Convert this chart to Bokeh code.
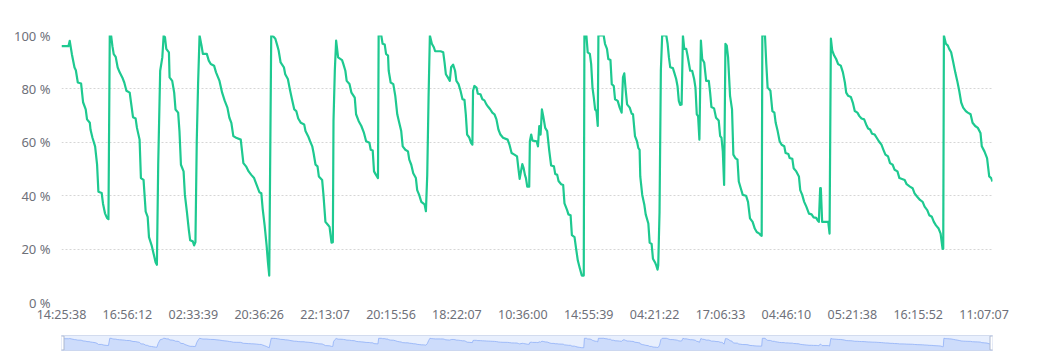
from bokeh.plotting import figure
from bokeh.models import Range1d, FixedTicker
from bokeh.layouts import column
from bokeh.embed import file_html
from bokeh.resources import INLINE

# sample position (category index) of each reading
sample_index = (
    [0, 4.2, 5.0, 6.3, 7.9, 8.7, 9.9, 11.9, 13.1, 14.7, 15.5, 17.2, 17.6, 18.8, 20.4, 21.6, 22.4, 24.4, 25.2, 26.4, 27.6, 28.5]
    + [29.3, 30.1, 30.9, 31.7, 32.9, 34.1, 35.3, 36.9, 38.1, 39.4, 41.4, 42.2, 43.4, 45.0, 45.8, 47.4, 48.2, 49.8, 51.1, 52.3, 53.1, 54.7, 55.9, 57.1, 57.9]
    + [58.7, 59.9, 61.2, 62.0, 62.8, 63.6, 65.2, 65.6, 67.2, 68.4, 69.2, 70.8, 71.6, 72.5, 74.1, 74.9, 76.1, 77.3, 78.1, 79.7, 80.5, 81.3]
    + [82.1, 82.9, 83.8, 85.0, 85.8, 88.2, 89.4, 90.6, 92.6, 93.8, 95.9, 97.5, 99.1, 100.7, 101.9, 103.1, 104.3, 106.0, 108.8, 110.4, 112.0, 113.6, 115.2, 116.9, 118.5, 120.1, 121.3, 122.1, 123.3, 124.5, 125.3, 126.1]
    + [127.3, 128.6, 129.8, 131.0, 131.8, 133.0, 135.0, 135.8, 137.4, 138.6, 139.9, 141.3, 142.5, 143.7, 145.3, 147.3, 148.1, 149.7, 150.9, 152.2, 153.0, 154.2, 155.4, 156.2, 158.2, 159.0, 160.2, 161.8, 162.7, 163.9, 164.7]
    + [165.1, 165.9, 166.7, 167.9, 170.3, 171.1, 172.3, 173.1, 174.8, 176.0, 178.0, 178.8, 180.4, 182.0, 183.6, 184.9, 186.9, 187.7, 188.9, 189.7, 190.9, 192.1]
    + [192.5, 194.1, 194.9, 196.2, 197.0, 198.2, 198.6, 199.8, 201.4, 202.6, 203.8, 205.0, 206.2, 207.1, 208.7, 210.3, 211.1, 212.3, 213.5, 215.1, 215.9, 217.1, 218.4, 219.6, 220.4, 221.2]
    + [222.0, 222.8, 223.6, 224.8, 226.0, 226.8, 230.1, 231.7, 232.5, 233.3, 234.5, 235.7, 236.5, 237.7, 238.9, 239.7, 241.0, 242.2, 243.4, 244.6, 245.4, 246.2, 247.4, 248.6, 249.4]
    + [249.8, 250.6, 251.9, 252.7, 254.3, 255.5, 256.7, 257.9, 259.1, 260.3, 261.5, 262.8, 264.0, 265.2, 266.4, 268.0, 270.8, 272.0, 273.2, 274.9, 276.5, 277.3, 278.1, 278.9, 279.7, 280.5, 281.3, 281.9, 282.7, 283.9]
    + [284.3, 285.1, 285.9, 288.4, 289.2, 290.0, 290.8, 291.6, 292.4, 293.6, 294.8, 296.0, 297.2, 298.9, 299.7, 300.9, 301.7, 303.3, 304.5, 305.3, 306.9, 307.7, 309.0, 309.8, 311.4, 312.2, 313.4, 314.6, 315.8, 317.0]
    + [317.4, 318.6, 319.4, 320.7, 321.5, 322.3, 323.1, 323.9, 324.7, 325.5]
    + [325.9, 329.1, 329.9, 331.1, 331.9, 333.2, 334.0, 335.2, 336.0, 337.6, 338.8, 340.0, 340.8, 341.6, 342.4, 343.3, 344.9, 346.1, 346.9, 348.1, 349.3, 350.1, 350.9, 351.3, 352.5, 353.8, 354.6, 356.2, 357.0, 358.2, 359.0, 360.2, 361.0, 361.8, 362.2]
    + [363.0, 363.8, 364.6, 367.1, 367.9, 368.7, 369.5, 371.1, 371.9, 373.1, 373.9, 374.7, 375.5, 376.4]
    + [377.2, 378.0, 379.2, 380.0, 381.6, 382.8, 384.0, 384.8, 385.6, 386.4, 387.2, 387.7, 388.1, 388.9, 390.1, 391.3, 392.9, 393.7, 394.5, 396.1, 397.3, 398.9, 399.8, 400.6, 401.4, 402.2]
    + [403.0, 403.8, 404.6, 405.8, 407.0, 407.8, 409.0, 410.3, 411.1, 412.3, 413.5, 415.5, 416.7, 417.9, 419.5, 420.8, 422.0, 423.6, 424.4, 425.0]
    + [425.4, 427.0, 427.8, 428.6, 430.3, 431.5, 432.7, 433.5, 434.7, 435.9, 437.1, 438.7, 439.5, 441.2, 442.0, 443.6, 444.4, 446.0, 447.6, 448.4, 449.6, 450.8, 452.1, 453.7, 455.3, 456.5, 458.1, 458.9, 459.7, 460.5, 460.9, 461.7, 465.4, 466.2]
    + [467.0, 467.8, 469.0, 470.2, 471.4, 473.0, 474.3, 475.5, 476.3, 477.5, 479.1, 480.3, 481.5, 483.1, 484.3, 485.6, 487.2, 488.4, 489.6, 490.8, 492.0, 493.6, 494.8, 496.1, 497.7, 498.9, 500.1, 501.7, 502.9, 504.5, 505.7, 507.4, 508.6, 511.8, 513.0, 515.0, 516.6, 517.8, 519.4, 521.1, 522.7, 523.9, 525.5, 526.7, 528.3, 529.5, 530.8, 532.4, 533.6, 534.8, 535.2]
    + [535.6, 536.8, 538.0, 538.8, 540.0, 541.3, 542.5, 543.7, 544.9, 546.1, 547.3, 548.9, 550.1, 551.8, 553.0, 554.6, 556.2, 557.8, 558.6, 560.2, 561.8, 563.1, 564.3, 565.1]
)

# battery level in percent at each sample
battery_pct = (
    [96, 96, 98, 93, 88, 87, 82.4, 82, 75, 72.3, 68.6, 67.3, 64.8, 61.7, 58.5, 51.6, 41.5, 41, 37, 33.4, 31.7, 31.2]
    + [100, 100, 96, 93, 92, 88, 86.2, 84.3, 82.4, 79.3, 78.6, 74.9, 69.4, 68.9, 65.4, 61, 46.6, 45.9, 34, 32.1, 24.5, 21.4, 18.3, 15.1, 14.1]
    + [51.6, 86.8, 91.8, 100, 99.4, 95, 93.7, 84.3, 83, 78.6, 72.3, 71.1, 64.2, 51.6, 49.1, 40.3, 34, 27.1, 23.3, 22.9, 21.4, 22.6]
    + [60.4, 81.8, 100, 96.2, 93.1, 93.1, 90.6, 89.3, 88.7, 86.2, 83, 78.6, 75.5, 73, 69.2, 67.3, 62.3, 61.7, 61, 52.2, 51, 49.1, 47.8, 46.6, 44, 41.3, 40.9, 35.2, 28.9, 21.4, 15.1, 10.1]
    + [100, 99.6, 98.8, 96.2, 94.4, 89.9, 88.1, 85.5, 83.7, 79.9, 76.1, 72.3, 71.7, 68.9, 67.3, 66.7, 64.2, 62.3, 60.4, 58.5, 56, 51.6, 51, 47.2, 45.9, 40.3, 30.2, 29, 28.3, 22.4, 22.6]
    + [67.9, 86.8, 98.1, 91.8, 90.8, 89.3, 86.8, 83, 81.8, 78.6, 76.7, 70.5, 67.9, 66.1, 63.5, 60.4, 59.8, 57.2, 56.9, 49.1, 47.8, 46.6]
    + [100, 100, 96.9, 96.6, 93.1, 92.5, 86.8, 82.4, 81.8, 77.4, 70.5, 67.3, 64.2, 58.5, 57.2, 56.6, 53.5, 51.6, 48.4, 46.6, 42.1, 40.3, 37.7, 37.1, 36.7, 34.2]
    + [47.8, 76.7, 100, 96.9, 95.6, 94.1, 94.1, 93.7, 89.9, 85.5, 84.3, 83, 88.1, 89.1, 86.8, 83, 81.8, 79.3, 76.1, 75.9, 70.5, 62.9, 61.9, 59.8, 59.1]
    + [79.3, 81.1, 80.5, 78.2, 78, 76.1, 75.7, 74.2, 73.2, 72.3, 71.1, 70.5, 68.6, 64.8, 62.9, 61.7, 61, 58.9, 56, 55.4, 54.7, 50.3, 46.3, 49.1, 51.8, 50.3, 47.8, 46.6, 43.4, 43.4]
    + [60.4, 62.9, 60.6, 60.4, 58.5, 66.1, 62.9, 72.3, 69.8, 65.4, 64.2, 57.2, 51.3, 51, 48.1, 47.8, 45.5, 44.3, 44, 37.1, 34.6, 33, 32.7, 25.2, 24.5, 20.8, 15.7, 12.8, 10.1, 10.1]
    + [100, 100, 93.7, 93.1, 89.3, 80.5, 76.7, 72.3, 71.7, 66.1]
    + [100, 100, 96.9, 95, 91.2, 90.8, 81.8, 81.1, 76.1, 75.5, 73, 71.1, 84.3, 85.8, 79.9, 74.2, 73, 70.7, 70.5, 62.3, 60.4, 57.9, 57.2, 47.2, 40.3, 36.5, 33, 29.6, 22.4, 21.9, 16.4, 15.1, 13.9, 12.3, 13.9]
    + [34, 86.8, 100, 100, 96.9, 91.8, 88.1, 87.8, 86.2, 83.7, 81.1, 75.5, 74, 74.2]
    + [100, 95, 95, 92.5, 86.8, 86.8, 83.7, 80.5, 70.5, 69.8, 61, 81.8, 98.1, 91.2, 89.9, 83, 83, 78.6, 73.2, 72.7, 69.2, 68.2, 62.3, 61.7, 56.6, 44]
    + [96.9, 96.2, 91.8, 77.4, 72.3, 55.4, 54.1, 53.5, 45.3, 42.8, 40.3, 40, 37.7, 31.5, 30.2, 27.7, 26.4, 25.8, 25.2, 25]
    + [100, 100, 89.3, 80.5, 79.3, 71.7, 71.1, 67.3, 64.2, 60.4, 59.1, 58.5, 56, 55.6, 54.1, 53.8, 50.3, 49.1, 47.2, 42.1, 40.3, 37.7, 35.9, 33.3, 33, 31.9, 31.7, 30.8, 30.2, 42.8, 42.8, 30.2, 30.2, 25.8]
    + [98.8, 94.4, 92.5, 91.2, 89.3, 88.7, 86.2, 82.4, 78.6, 77.4, 77, 74.9, 71.7, 71.1, 69.8, 68.9, 68.6, 66.7, 65.2, 64.8, 63.2, 62.9, 61.7, 60.4, 59.1, 57.2, 55.4, 54.7, 52.2, 51.6, 49.7, 49.1, 46.6, 45.9, 44.3, 43.4, 42.8, 40.9, 39.6, 38.4, 37.7, 35.9, 34.6, 32.7, 32.1, 30.2, 28.9, 27.7, 25.8, 20.1, 20.1]
    + [100, 96.9, 96.2, 95, 93.7, 89.9, 86.2, 83, 79.3, 74.9, 73, 71.7, 71.1, 70.5, 67.3, 66.1, 65.4, 63.5, 58.5, 56.6, 54.1, 47.2, 46.6, 45.3]
)
assert len(sample_index) == len(battery_pct)

# category-axis labels (every 40th sample)
tick_index = [0, 40, 80, 120, 160, 200, 240, 280, 320, 360, 400, 440, 480, 520, 560]
tick_labels = ["14:25:38", "16:56:12", "02:33:39", "20:36:26", "22:13:07", "20:15:56", "18:22:07",
               "10:36:00", "14:55:39", "04:21:22", "17:06:33", "04:46:10", "05:21:38", "16:15:52", "11:07:07"]
y_ticks = [0, 20, 40, 60, 80, 100]
y_labels = ["0 %", "20 %", "40 %", "60 %", "80 %", "100 %"]

FONT = "Noto Sans"
TEXT = "#6e7079"
LINE = "#1ec990"

p = figure(width=1050, height=327, x_range=Range1d(sample_index[0], sample_index[-1]),
           y_range=Range1d(0, 100), output_backend="svg", toolbar_location=None,
           min_border_left=58, min_border_right=58, min_border_top=35, min_border_bottom=25)
p.outline_line_color = None
p.background_fill_color = "white"
p.border_fill_color = "white"
p.xgrid.visible = False
p.ygrid.grid_line_color = "#d6d6d6"
p.ygrid.grid_line_dash = "2 2"
p.ygrid.grid_line_width = 1

p.yaxis.ticker = FixedTicker(ticks=y_ticks)
p.yaxis.major_label_overrides = {t: l for t, l in zip(y_ticks, y_labels)}
p.xaxis.ticker = FixedTicker(ticks=tick_index)
p.xaxis.major_label_overrides = {t: l for t, l in zip(tick_index, tick_labels)}
for ax in (p.xaxis, p.yaxis):
    ax.axis_line_color = None
    ax.major_tick_line_color = None
    ax.minor_tick_line_color = None
    ax.major_tick_out = 0
    ax.major_tick_in = 0
    ax.major_label_text_font = FONT
    ax.major_label_text_font_size = "12px"
    ax.major_label_text_color = TEXT
p.yaxis.major_label_text_font_size = "13px"
p.yaxis.major_label_standoff = 11
p.xaxis.major_label_text_font_size = "12.5px"
p.xaxis.major_label_standoff = 3

p.line(sample_index, battery_pct, line_color=LINE, line_width=2.2, line_join="round")

# data-zoom slider with data shadow
lo_v, hi_v = min(battery_pct), max(battery_pct)
pad = (hi_v - lo_v) * 0.3
lo, hi = lo_v - pad, hi_v + pad
s = figure(width=1050, height=25, x_range=Range1d(sample_index[0], sample_index[-1]),
           y_range=Range1d(lo, hi), output_backend="svg", toolbar_location=None,
           x_axis_location=None, y_axis_location=None,
           min_border_left=61, min_border_right=57, min_border_top=8, min_border_bottom=2)
s.grid.visible = False
s.background_fill_color = "#e8effd"
s.border_fill_color = "white"
s.outline_line_color = "#d2dbee"
s.varea(x=sample_index, y1=lo, y2=battery_pct, fill_color="#8fb0f7", fill_alpha=0.3)
s.line(sample_index, battery_pct, line_color="#8fb0f7", line_width=0.8)
s.rect(x=[sample_index[0], sample_index[-1]], y=[(lo + hi) / 2] * 2, width=5, height=14,
       width_units="screen", height_units="screen", fill_color="white", line_color="#acb8d1")

layout = column(p, s, spacing=0)
open("out.html", "w").write(file_html(layout, INLINE))
